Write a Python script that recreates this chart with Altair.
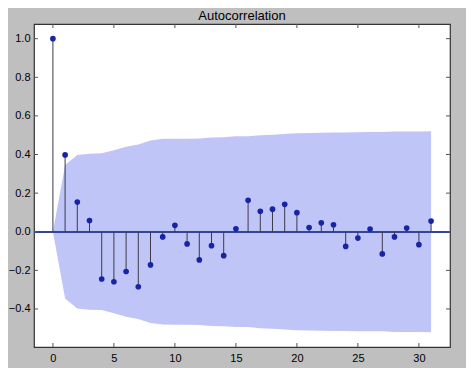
import altair as alt
import pandas as pd

lags = list(range(32))
acf = [1.0, 0.398, 0.154, 0.058, -0.245, -0.259, -0.206, -0.285, -0.172, -0.027,
       0.033, -0.063, -0.146, -0.072, -0.124, 0.015, 0.163, 0.106, 0.117, 0.142,
       0.099, 0.022, 0.046, 0.036, -0.076, -0.033, 0.014, -0.115, -0.027, 0.019,
       -0.067, 0.055]
band = [0.0, 0.346, 0.397, 0.404, 0.406, 0.422, 0.440, 0.452, 0.473, 0.481,
        0.482, 0.482, 0.483, 0.488, 0.490, 0.494, 0.494, 0.500, 0.503, 0.506,
        0.510, 0.512, 0.513, 0.514, 0.514, 0.515, 0.516, 0.516, 0.519, 0.519,
        0.519, 0.520]
x_ticks = [0, 5, 10, 15, 20, 25, 30]
y_ticks = [-0.4, -0.2, 0.0, 0.2, 0.4, 0.6, 0.8, 1.0]

df = pd.DataFrame({"lag": lags, "acf": acf, "hi": band,
                   "lo": [-b for b in band], "zero": [0.0] * len(lags)})
xt = pd.DataFrame({"t": x_ticks})
yt = pd.DataFrame({"t": y_ticks})

W, H = 416, 323
xs = alt.Scale(domain=[-1.55, 32.55], nice=False, zero=False)
ys = alt.Scale(domain=[-0.597, 1.076], nice=False, zero=False)

xaxis = alt.Axis(values=x_ticks, format="d", title=None, grid=False, ticks=False,
                 domain=False, labelFontSize=11, labelPadding=5, labelColor="#000",
                 labelFont="Liberation Sans")
yaxis = alt.Axis(values=y_ticks, format=".1f", title=None, grid=False, ticks=False,
                 domain=False, labelFontSize=11, labelPadding=4, labelColor="#000",
                 labelFont="Liberation Sans")

base = alt.Chart(df)
area = base.mark_area(color="#c0c5f7", opacity=1).encode(
    x=alt.X("lag:Q", scale=xs, axis=xaxis),
    y=alt.Y("lo:Q", scale=ys, axis=yaxis),
    y2="hi:Q",
)
zero = base.mark_rule(color="#34449a", strokeWidth=1).encode(
    y=alt.datum(0.0)
)
stems = base.mark_rule(color="#3a3a4a", strokeWidth=1).encode(
    x=alt.X("lag:Q", scale=xs), y=alt.Y("zero:Q", scale=ys), y2="acf:Q"
)
pts = base.mark_circle(color="#1624a6", size=32, opacity=1).encode(
    x=alt.X("lag:Q", scale=xs), y=alt.Y("acf:Q", scale=ys)
)
tick_col = "#555555"
xt_top = alt.Chart(xt).mark_rule(color=tick_col).encode(
    x=alt.X("t:Q", scale=xs), y=alt.value(0), y2=alt.value(4))
xt_bot = alt.Chart(xt).mark_rule(color=tick_col).encode(
    x=alt.X("t:Q", scale=xs), y=alt.value(H), y2=alt.value(H - 4))
yt_l = alt.Chart(yt).mark_rule(color=tick_col).encode(
    y=alt.Y("t:Q", scale=ys), x=alt.value(0), x2=alt.value(4))
yt_r = alt.Chart(yt).mark_rule(color=tick_col).encode(
    y=alt.Y("t:Q", scale=ys), x=alt.value(W), x2=alt.value(W - 4))

chart = alt.layer(area, zero, stems, pts, xt_top, xt_bot, yt_l, yt_r).properties(
    width=W, height=H,
    title=alt.TitleParams("Autocorrelation", fontSize=13, font="Liberation Sans",
                          fontWeight="normal", color="#000", offset=1, anchor="middle"),
    background="#bfbfbf",
    autosize=alt.AutoSizeParams(type="none"),
    padding={"left": 26, "top": 16, "right": 16, "bottom": 21},
).configure_view(fill="white", stroke="#333333", strokeWidth=1.2)

chart.save("out.html", embed_options={"renderer": "svg", "actions": False})
